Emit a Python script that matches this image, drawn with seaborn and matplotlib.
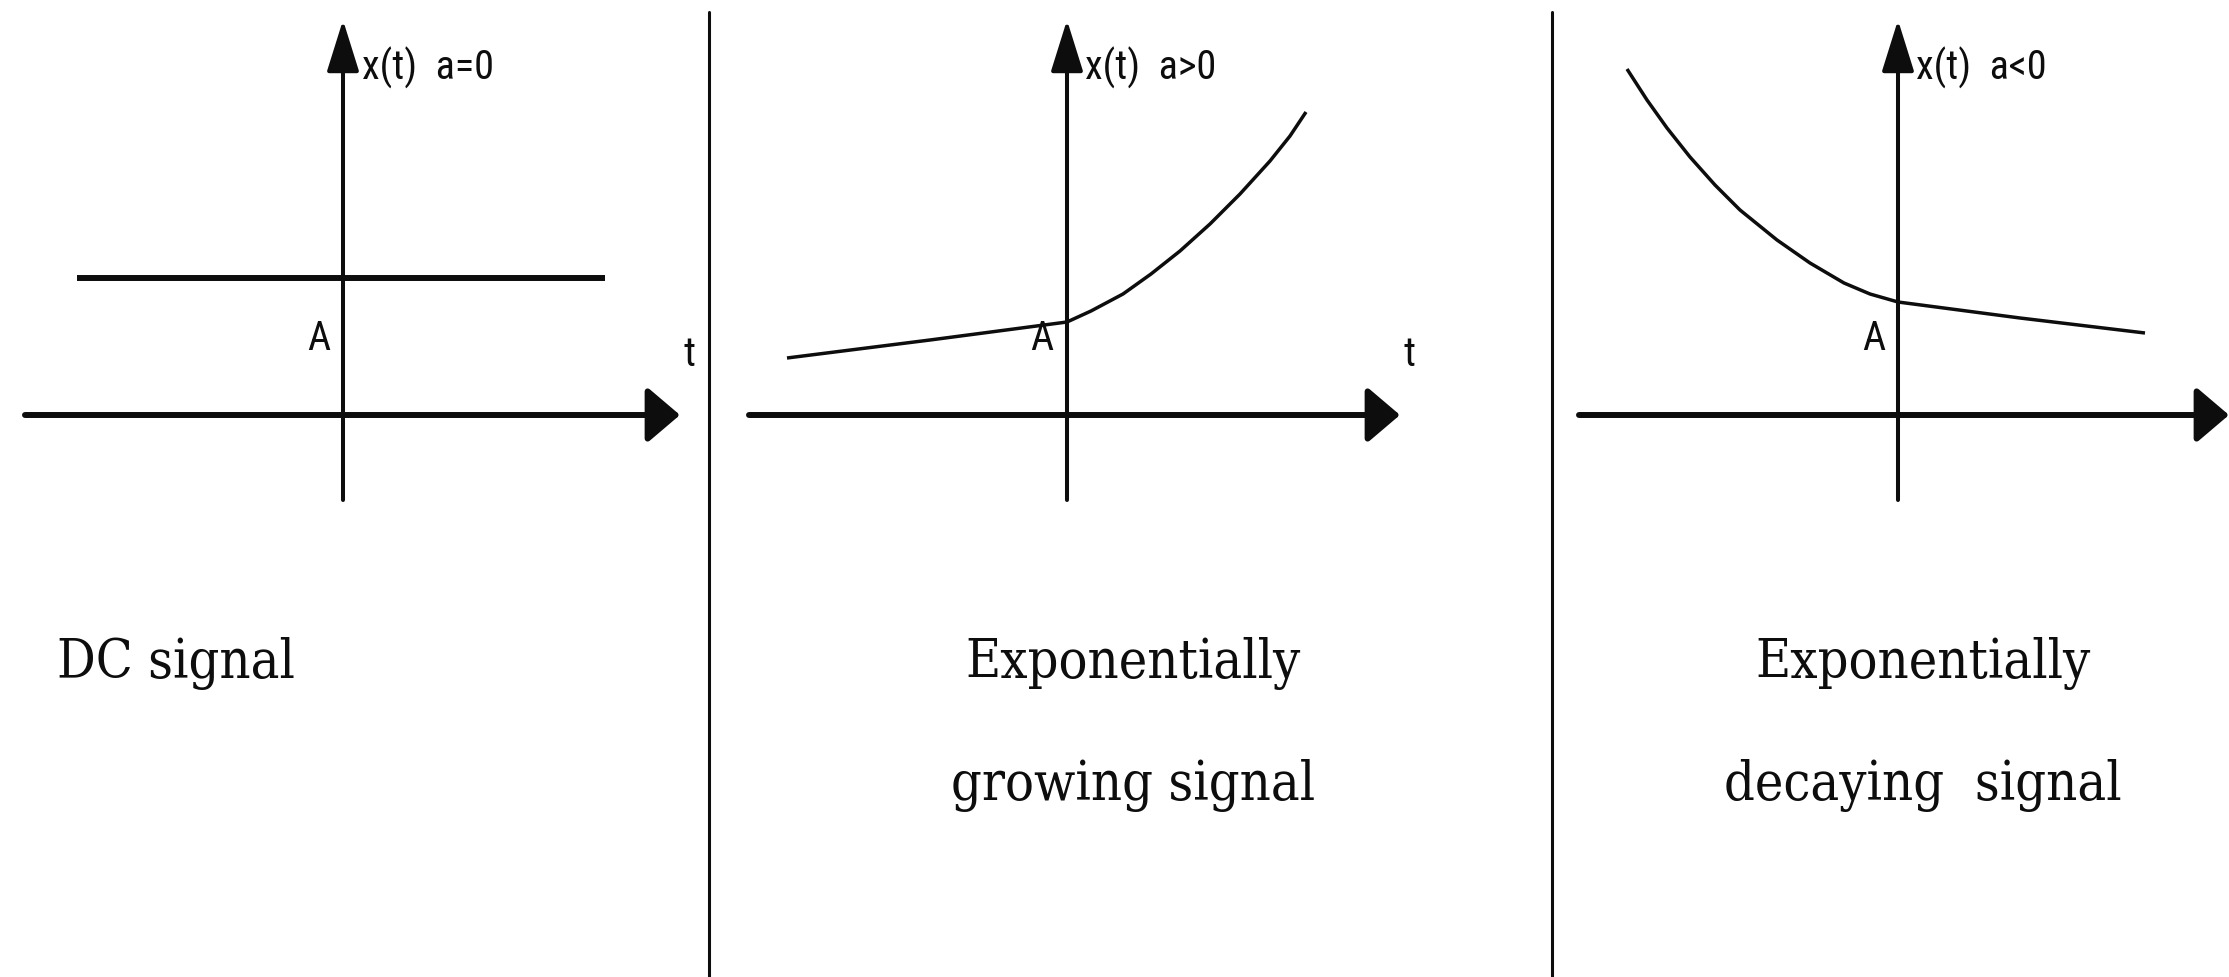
import matplotlib
matplotlib.use("Agg")
import numpy as np
import pandas as pd
import matplotlib.pyplot as plt
import seaborn as sns
from matplotlib import font_manager as fm
from matplotlib.lines import Line2D

# ---------------- data (panel units: origin at the axis crossing) ----------------
dc_t = [-2.66, 2.62]
dc_x = [1.37, 1.37]

grow_t = [-2.80, -1.37, 0.00, 0.24, 0.56, 0.84, 1.13, 1.43, 1.73, 2.03, 2.23, 2.39]
grow_x = [0.57, 0.75, 0.93, 1.04, 1.21, 1.41, 1.64, 1.91, 2.21, 2.54, 2.79, 3.03]

decay_t = [-2.71, -2.51, -2.31, -2.08, -1.83, -1.58, -1.21, -0.88, -0.54, -0.28, 0.00, 1.22, 2.47]
decay_x = [3.46, 3.15, 2.87, 2.58, 2.30, 2.05, 1.75, 1.52, 1.32, 1.21, 1.13, 0.97, 0.82]

axis_labels = ["x(t)  a=0", "x(t)  a>0", "x(t)  a<0"]
amp_label = "A"
time_label = "t"
captions = [["DC signal"], ["Exponentially", "growing signal"], ["Exponentially", "decaying  signal"]]

# ---------------- layout ----------------
W, H = 2229, 977
S = 100.0              # pixels per panel unit
ORIGIN_Y = 415         # pixel row of the time axis
panels = [(0, 709, 343), (709, 1552, 1067), (1552, 2229, 1898)]  # left px, right px, y-axis px
xaxis_ext = [(-3.18, 3.37), (-3.18, 3.33), (-3.19, 3.31)]
yaxis_ext = (-0.85, 3.95)
label_pos = [(0.19, 3.47), (0.18, 3.47), (0.18, 3.47)]
a_pos = [(-0.24, 0.76), (-0.25, 0.76), (-0.24, 0.76)]
t_pos = [(3.47, 0.60), (3.43, 0.60), None]
cap_anchor = [("left", -2.86), ("center", 0.66), ("center", 0.25)]
cap_baselines = [-2.63, -3.85]
INK = "#0d0d0d"

sns.set_theme(style="white")
plt.rcParams["font.family"] = ["DejaVu Sans"]


def _regular(f):
    return str(f.weight).lower() in ("400", "normal", "regular", "book") and f.style == "normal"


def find_font(preds, fallback):
    for pred in preds:
        for f in fm.fontManager.ttflist:
            try:
                if pred(f) and _regular(f):
                    return fm.FontProperties(fname=f.fname)
            except Exception:
                pass
    return fm.FontProperties(family=fallback)


cond = lambda f: f.stretch in ("condensed", "semi-condensed", "extra-condensed", "ultra-condensed")
serif_font = find_font([
    lambda f: f.name == "DejaVu Serif" and cond(f),
    lambda f: f.name == "Liberation Sans Narrow",
    lambda f: f.name == "Roboto Condensed",
    lambda f: f.name == "DejaVu Sans" and cond(f),
    lambda f: "Condensed" in f.name or "Narrow" in f.name,
    lambda f: cond(f),
], "Liberation Serif")
sans_font = find_font([
    lambda f: f.name == "Liberation Sans Narrow",
    lambda f: f.name == "Roboto Condensed",
    lambda f: f.name == "DejaVu Sans" and cond(f),
    lambda f: "Condensed" in f.name or "Narrow" in f.name,
    lambda f: cond(f),
], "DejaVu Sans")

fig = plt.figure(figsize=(W / 100, H / 100), dpi=100)
fig.patch.set_facecolor("white")

series = [
    pd.DataFrame({"t": dc_t, "x": dc_x}),
    pd.DataFrame({"t": grow_t, "x": grow_x}),
    pd.DataFrame({"t": decay_t, "x": decay_x}),
]
curve_lw = [4.3, 2.5, 2.5]

axes = []
small_texts = []
big_texts = []
for i, (l, r, ox) in enumerate(panels):
    ax = fig.add_axes([l / W, 0, (r - l) / W, 1])
    ax.set_xlim((l - ox) / S, (r - ox) / S)
    ax.set_ylim((ORIGIN_Y - H) / S, ORIGIN_Y / S)
    ax.axis("off")
    axes.append(ax)

    # coordinate axes with arrowheads
    x0, x1 = xaxis_ext[i]
    ax.annotate("", xy=(x1, 0), xytext=(x0, 0), annotation_clip=False,
                arrowprops=dict(arrowstyle="-|>,head_length=2.0,head_width=1.7",
                                mutation_scale=10, lw=4.3, color=INK,
                                shrinkA=0, shrinkB=0))
    y0, y1 = yaxis_ext
    ax.annotate("", xy=(0, y1), xytext=(0, y0), annotation_clip=False,
                arrowprops=dict(arrowstyle="-|>,head_length=3.2,head_width=1.0",
                                mutation_scale=10, lw=2.9, color=INK,
                                shrinkA=0, shrinkB=0))

    # signal
    sns.lineplot(data=series[i], x="t", y="x", ax=ax, color=INK, lw=curve_lw[i],
                 sort=False, estimator=None, legend=False,
                 solid_capstyle="butt", solid_joinstyle="round")

    # small labels
    lx, ly = label_pos[i]
    small_texts.append(ax.text(lx, ly, axis_labels[i], ha="left", va="center",
                               fontproperties=sans_font, color=INK))
    axp, ayp = a_pos[i]
    small_texts.append(ax.text(axp, ayp, amp_label, ha="center", va="center",
                               fontproperties=sans_font, color=INK))
    if t_pos[i] is not None:
        small_texts.append(ax.text(t_pos[i][0], t_pos[i][1], time_label, ha="center",
                                   va="center", fontproperties=sans_font, color=INK))

    ha, cx = cap_anchor[i]
    for j, line in enumerate(captions[i]):
        big_texts.append(ax.text(cx, cap_baselines[j], line, ha=ha, va="baseline",
                                 fontproperties=serif_font, color=INK))

# dividers between the panels
for xp in (709, 1552):
    fig.add_artist(Line2D([xp / W, xp / W], [0, 1 - 12 / H], transform=fig.transFigure,
                          color=INK, lw=2.2))

# fit font sizes to the reference text widths
renderer = fig.canvas.get_renderer()


def fit_size(text_obj, target_px, cap_pt):
    text_obj.set_fontsize(40)
    w = text_obj.get_window_extent(renderer).width
    return min(40 * target_px / w, cap_pt)


big_size = fit_size(big_texts[1], 335, 60)      # "Exponentially" ~320 px wide (slightly taller)
for t in big_texts:
    t.set_fontsize(big_size)
small_size = fit_size(small_texts[0], 132, 42)  # "x(t)  a=0" ~130 px wide
for t in small_texts:
    t.set_fontsize(small_size)

fig.savefig("out.png", dpi=100, facecolor="white")
